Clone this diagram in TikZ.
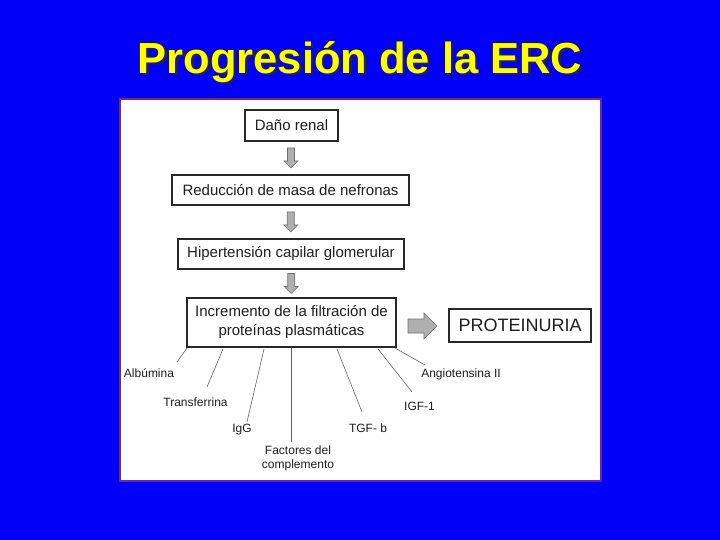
\documentclass[tikz,border=0pt]{standalone}
\usepackage{fontspec}
\setmainfont{Liberation Sans}
\usetikzlibrary{calc}
\definecolor{bgblue}{RGB}{0,0,250}
\definecolor{ttlyellow}{RGB}{255,255,0}
\definecolor{panelborder}{RGB}{110,40,150}
\definecolor{arrfill}{RGB}{175,175,175}
\definecolor{arrline}{RGB}{110,110,110}
\definecolor{boxline}{RGB}{40,40,40}
\definecolor{txt}{RGB}{30,30,30}
\tikzset{
  stepbox/.style={draw=boxline, line width=1.2pt, fill=white, text=txt, inner sep=0pt, align=center, font=\fontsize{15}{18}\selectfont},
  blockarr/.style={draw=arrline, fill=arrfill, line width=0.6pt, line join=miter},
  lbl/.style={text=txt, font=\fontsize{12}{14}\selectfont, inner sep=0pt, align=center},
  spoke/.style={draw=txt!70, line width=0.6pt}
}
\begin{document}
\begin{tikzpicture}[x=1pt,y=-1pt]
\fill[bgblue] (0,0) rectangle (720,540);
\useasboundingbox (0,0) rectangle (720,540);
% title
\node[text=black!85, font=\bfseries\fontsize{43.5}{50}\selectfont] at (362.5,64.5) {Progresión de la ERC};
\node (title) [text=ttlyellow, font=\bfseries\fontsize{43.5}{50}\selectfont] at (360,62) {Progresión de la ERC};
% panel
\draw[panelborder, line width=1.5pt, fill=white] (120,99) rectangle (601,481);
% boxes
\node (dano) [stepbox, minimum width=93pt, minimum height=31pt] at (291.5,125.5) {Daño renal};
\node (reduc) [stepbox, minimum width=237pt, minimum height=30pt] at (290.5,190) {Reducción de masa de nefronas};
\node (hiper) [stepbox, minimum width=226pt, minimum height=30pt] at (291,254) {Hipertensión capilar glomerular};
\node (incr) [stepbox, minimum width=209pt, minimum height=49pt, font=\fontsize{15}{19}\selectfont] at (291.5,322.5) {Incremento de la filtración de\\proteínas plasmáticas};
\node (prot) [stepbox, minimum width=142pt, minimum height=33pt, font=\fontsize{18}{20}\selectfont] at (520,325.5) {PROTEINURIA};
% block arrows
\coordinate (m1) at ($(dano.south)!0.5!(reduc.north)$);
\coordinate (m2) at ($(reduc.south)!0.5!(hiper.north)$);
\coordinate (m3) at ($(hiper.south)!0.5!(incr.north)$);
\coordinate (m4) at ($(incr.east)!0.5!(prot.west)+(0,2)$);
\foreach \m in {m1,m2,m3}{
  \path[blockarr, shift={(\m)}] (-3.5,-10) -- (3.5,-10) -- (3.5,3) -- (7,3) -- (0,10) -- (-7,3) -- (-3.5,3) -- cycle;
}
\path[blockarr, shift={(m4)}] (-14.5,-7) -- (1.5,-7) -- (1.5,-13) -- (14.5,0) -- (1.5,13) -- (1.5,7) -- (-14.5,7) -- cycle;
% labels
\node (alb) [lbl] at (149,373) {Albúmina};
\node (trans) [lbl] at (195.5,402) {Transferrina};
\node (igg) [lbl] at (242,430) {IgG};
\node (fact) [lbl] at (298,458) {Factores del\\complemento};
\node (tgf) [lbl] at (368,428) {TGF- b};
\node (igf) [lbl] at (419.5,406) {IGF-1};
\node (ang) [lbl] at (461,374) {Angiotensina II};
% spokes
\coordinate (s1) at (187,348);
\coordinate (s2) at (223,349);
\coordinate (s3) at (264,349);
\coordinate (s4) at (291,348);
\coordinate (s5) at (337,349);
\coordinate (s6) at (378,349);
\coordinate (s7) at (395,348);
\draw[spoke] (s1) -- (177,362);
\draw[spoke] (s2) -- (207,387);
\draw[spoke] (s3) -- (247,422);
\draw[spoke] (s4) -- ($(fact.north -| s4)+(0,-3)$);
\draw[spoke] (s5) -- (362,412);
\draw[spoke] (s6) -- (412,392);
\draw[spoke] (s7) -- (425,365);
\end{tikzpicture}
\end{document}
